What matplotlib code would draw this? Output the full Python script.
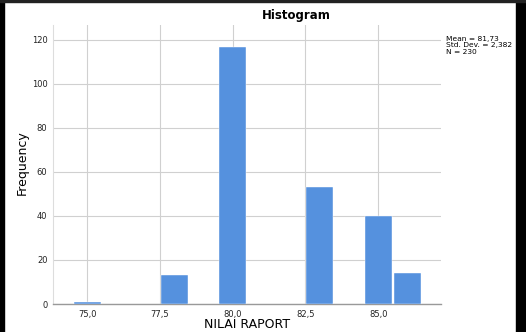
import matplotlib
matplotlib.use("Agg")
import matplotlib.pyplot as plt
from matplotlib.patches import Rectangle

# histogram bins (NILAI RAPORT) and their frequencies
bin_centers = [75, 78, 80, 83, 85, 86]
frequencies = [1, 13, 117, 53, 40, 14]
x_ticks = [75.0, 77.5, 80.0, 82.5, 85.0]
y_ticks = [0, 20, 40, 60, 80, 100, 120]
stats_text = "Mean = 81,73\nStd. Dev. = 2,382\nN = 230"

W, H = 526, 332
fig = plt.figure(figsize=(W / 100, H / 100), dpi=100)
fig.patch.set_facecolor("white")

ax = fig.add_axes([53 / W, 1 - 304 / H, (441 - 53) / W, (304 - 25) / H])
ax.bar(bin_centers, frequencies, width=0.93, color="#5591DE",
       edgecolor="white", linewidth=0.3, zorder=3)

ax.set_xlim(73.83, 87.16)
ax.set_ylim(0, 126.8)
ax.set_xticks(x_ticks)
ax.set_xticklabels([f"{t:.1f}".replace(".", ",") for t in x_ticks])
ax.set_yticks(y_ticks)
ax.tick_params(axis="both", length=0, labelsize=6, colors="#222222", pad=4)

ax.grid(True, color="#d0d0d0", linewidth=0.8, zorder=0)
for s in ["top", "right"]:
    ax.spines[s].set_visible(False)
ax.spines["left"].set_color("#dddddd")
ax.spines["bottom"].set_color("#999999")
ax.spines["bottom"].set_linewidth(1.0)

fig.text(296 / W, 1 - 16 / H, "Histogram", ha="center", va="center",
         fontsize=8.5, fontweight="bold")
fig.text(22 / W, 1 - 163 / H, "Frequency", ha="center", va="center",
         rotation=90, fontsize=9)
fig.text(247 / W, 1 - 331 / H, "NILAI RAPORT", ha="center", va="bottom",
         fontsize=9)
fig.text(446 / W, 1 - 36 / H, stats_text, ha="left", va="top",
         fontsize=5.4, linespacing=1.1)

# dark frame edges from the screenshot
fig.patches.append(Rectangle((0, 0), 4 / W, 1, transform=fig.transFigure,
                             color="black", zorder=10))
fig.patches.append(Rectangle((516 / W, 0), 10 / W, 1, transform=fig.transFigure,
                             color="black", zorder=10))
fig.patches.append(Rectangle((0, 1 - 2 / H), 1, 2 / H, transform=fig.transFigure,
                             color="#222222", zorder=10))

fig.savefig("out.png", dpi=100)
